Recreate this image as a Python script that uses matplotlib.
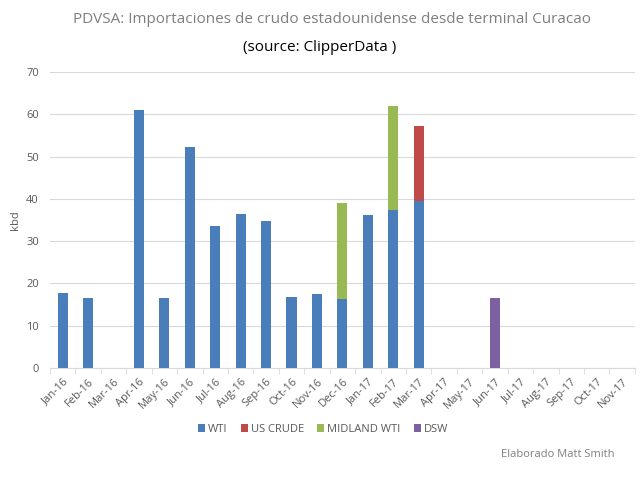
import numpy as np
import matplotlib
matplotlib.use("Agg")
import matplotlib.pyplot as plt
from matplotlib.patches import Patch

months = ["Jan-16", "Feb-16", "Mar-16", "Apr-16", "May-16", "Jun-16", "Jul-16",
          "Aug-16", "Sep-16", "Oct-16", "Nov-16", "Dec-16", "Jan-17", "Feb-17",
          "Mar-17", "Apr-17", "May-17", "Jun-17", "Jul-17", "Aug-17", "Sep-17",
          "Oct-17", "Nov-17"]
wti = [17.7, 16.6, 0, 61.0, 16.6, 52.3, 33.6, 36.4, 34.9, 16.8, 17.4, 16.4,
       36.2, 37.5, 39.6, 0, 0, 0, 0, 0, 0, 0, 0]
us_crude = [0, 0, 0, 0, 0, 0, 0, 0, 0, 0, 0, 0, 0, 0, 17.6, 0, 0, 0, 0, 0, 0, 0, 0]
midland_wti = [0, 0, 0, 0, 0, 0, 0, 0, 0, 0, 0, 22.7, 0, 24.4, 0, 0, 0, 0, 0, 0, 0, 0, 0]
dsw = [0, 0, 0, 0, 0, 0, 0, 0, 0, 0, 0, 0, 0, 0, 0, 0, 0, 16.5, 0, 0, 0, 0, 0]

series = [("WTI", wti, "#4a7ebb"), ("US CRUDE", us_crude, "#be4b48"),
          ("MIDLAND WTI", midland_wti, "#98b954"), ("DSW", dsw, "#7d60a0")]

plt.rcParams['font.family'] = ['Open Sans', 'DejaVu Sans']

fig = plt.figure(figsize=(6.4, 4.88), dpi=100)
ax = fig.add_axes([0.078, 0.246, 0.914, 0.606])

x = np.arange(len(months))
bottom = np.zeros(len(months))
for name, vals, color in series:
    vals = np.array(vals, dtype=float)
    ax.bar(x, vals, width=0.4, bottom=bottom, color=color, zorder=3)
    bottom += vals

ax.set_xlim(-0.5, len(months) - 0.5)
ax.set_ylim(0, 70)
ax.set_yticks(np.arange(0, 71, 10))
ax.yaxis.grid(True, color="#d9d9d9", linewidth=0.8, zorder=0)
ax.tick_params(axis="y", length=0, labelsize=8, labelcolor="#595959", pad=8)

ax.set_xticks(x)
ax.set_xticklabels(months, rotation=45, ha="right", rotation_mode="anchor")
ax.set_xticks(np.arange(-0.5, len(months), 1), minor=True)
ax.tick_params(axis="x", which="major", length=0, labelsize=8,
               labelcolor="#595959", pad=6)
ax.tick_params(axis="x", which="minor", length=4, color="#d9d9d9")

for s in ["top", "right", "left"]:
    ax.spines[s].set_visible(False)
ax.spines["bottom"].set_color("#d9d9d9")

ax.set_ylabel("kbd", fontsize=8, color="#595959", labelpad=4)

fig.text(0.518, 0.96, "PDVSA: Importaciones de crudo estadounidense desde terminal Curacao",
         ha="center", va="center", fontsize=11, color="#7f7f7f")
fig.text(0.5, 0.903, "(source: ClipperData )", ha="center", va="center",
         fontsize=11, color="#000000")

handles = [Patch(facecolor=c, label=n) for n, _, c in series]
fig.legend(handles=handles, loc="center", bbox_to_anchor=(0.505, 0.12), ncol=4,
           frameon=False, fontsize=8, handlelength=0.6, handleheight=0.6,
           handletextpad=0.3, columnspacing=1.2, labelcolor="#595959")

fig.text(0.96, 0.068, "Elaborado Matt Smith", ha="right", va="center",
         fontsize=8, color="#7f7f7f")

fig.savefig("out.png", dpi=100)
